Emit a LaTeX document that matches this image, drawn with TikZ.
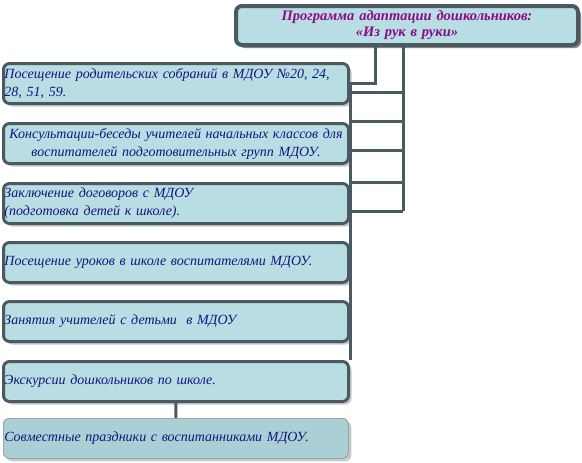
\documentclass[tikz,border=0pt]{standalone}
\usepackage{fontspec}
\setmainfont{Liberation Serif}
\usetikzlibrary{shadows}

\definecolor{slate}{HTML}{4B5A60}
\definecolor{pale}{HTML}{B8DDE2}
\definecolor{paler}{HTML}{AACFD4}
\definecolor{ink}{HTML}{14147E}
\definecolor{plum}{HTML}{8A0A8A}

\tikzset{
  stagebox/.style={draw=slate, line width=3pt, rounded corners=6pt, fill=pale,
    drop shadow={shadow xshift=3pt, shadow yshift=-3pt, fill=gray!85},
    anchor=north west, minimum width=345pt, minimum height=40pt,
    text width=343pt, inner sep=1pt, align=left, text=ink,
    font=\itshape\fontsize{14}{18}\selectfont},
  conn/.style={draw=slate, line width=3pt},
}

\begin{document}
\begin{tikzpicture}[x=1pt,y=-1pt]
  \useasboundingbox (0,0) rectangle (582,463);

  % title
  \node[stagebox, line width=4pt, minimum width=342pt, minimum height=39pt,
        text width=336pt, align=center, text=plum,
        drop shadow={shadow xshift=3pt, shadow yshift=-3pt, fill=black!70},
        font=\bfseries\itshape\fontsize{14.5}{16}\selectfont]
    (title) at (234,4) {Программа адаптации дошкольников:\\«Из рук в руки»};

  % stages
  \node[stagebox] (b1) at (2,62) {Посещение родительских собраний в МДОУ №20, 24,\\28, 51, 59.};
  \node[stagebox, align=center] (b2) at (2,122) {Консультации-беседы учителей начальных классов для\\воспитателей подготовительных групп МДОУ.};
  \node[stagebox] (b3) at (2,182) {Заключение договоров с МДОУ\\(подготовка детей к школе).};
  \node[stagebox] (b4) at (2,241) {Посещение уроков в школе воспитателями МДОУ.};
  \node[stagebox] (b5) at (2,300) {Занятия учителей с детьми~~в МДОУ};
  \node[stagebox] (b6) at (2,360) {Экскурсии дошкольников по школе.};
  \node[stagebox, line width=0.6pt, draw=slate!70, fill=paler,
        drop shadow={shadow xshift=2pt, shadow yshift=-2pt, fill=gray!40}]
    (b7) at (3,418) {Совместные праздники с воспитанниками МДОУ.};

  % connectors
  \coordinate (j1) at (375,0);
  \coordinate (j2) at (403,0);
  \coordinate (j3) at (0,211);
  \draw[conn] (title.south -| j1) |- (b1.east);
  \draw[conn] (title.south -| j2) -- (j2 |- j3);
  \draw[conn] (b1.east) -- (b1.east |- b6.north);
  \foreach \y in {92,121,150,182,211}
    \draw[conn] (b1.east |- 0,\y) -- (j2 |- 0,\y);
  \draw[conn] (b6.south) -- (b7.north);
\end{tikzpicture}
\end{document}
